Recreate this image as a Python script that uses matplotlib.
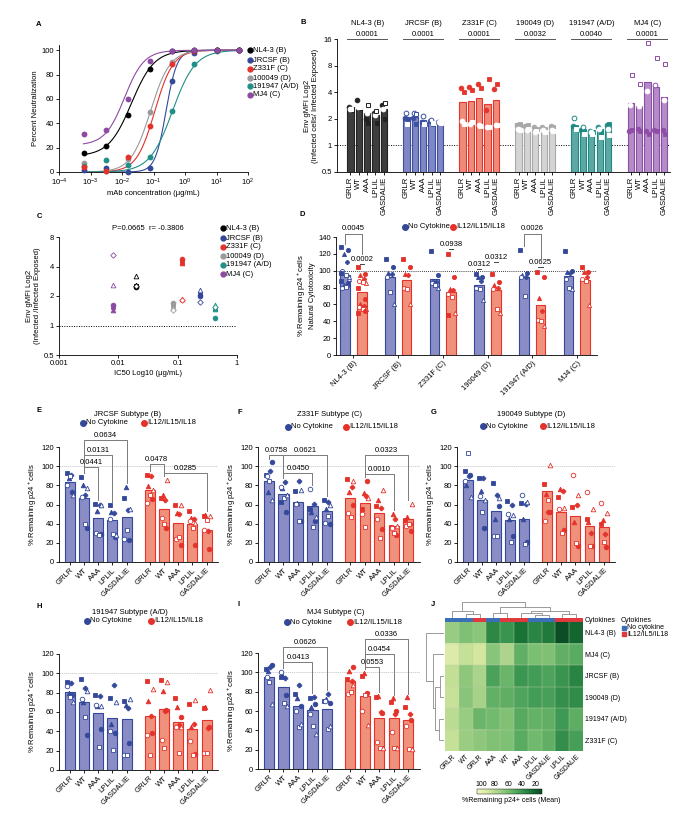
import numpy as np
import matplotlib
matplotlib.use("Agg")
import matplotlib.pyplot as plt
from matplotlib.colors import LinearSegmentedColormap, Normalize
from matplotlib.ticker import NullLocator
from matplotlib import cm

plt.rcParams['font.family'] = ['Liberation Sans', 'DejaVu Sans']
plt.rcParams['font.size'] = 5.5
plt.rcParams['axes.linewidth'] = 0.6
plt.rcParams['xtick.major.width'] = 0.6
plt.rcParams['ytick.major.width'] = 0.6
plt.rcParams['xtick.major.size'] = 2
plt.rcParams['ytick.major.size'] = 2
plt.rcParams['xtick.major.pad'] = 1.5
plt.rcParams['ytick.major.pad'] = 1.5
plt.rcParams['xtick.labelsize'] = 5.5
plt.rcParams['ytick.labelsize'] = 5.5
plt.rcParams['mathtext.default'] = 'regular'

# ---------------- data ----------------
# A: neutralization
a_strains = ["NL4-3 (B)", "JRCSF (B)", "Z331F (C)", "100049 (D)", "191947 (A/D)", "MJ4 (C)"]
mab_conc = [0.00064, 0.0032, 0.016, 0.08, 0.4, 2, 10, 50]
neut_nl43 = [16, 21, 46.5, 84.5, 99.5, 100, 100, 100]
neut_jrcsf = [2, 3.5, 0, 3, 75, 97.5, 100, 100]
neut_z331f = [4.5, 0.5, 12, 38, 89, 99, 100, 100]
neut_100049 = [7, 1, 11, 49, 90, 99, 100, 100]
neut_191947 = [5, 10, 6, 12.5, 50.5, 88.5, 99.5, 100]
neut_mj4 = [31, 34.5, 60, 91, 99.5, 100.5, 100, 100]
# fitted dose-response parameters (bottom plateau, IC50, slope)
fit_bottom = [13, 0, 0, 0, 0, 22]
fit_ic50 = [0.02, 0.25, 0.11, 0.08, 0.4, 0.012]
fit_hill = [1.2, 2.5, 1.5, 1.4, 1.2, 1.4]

# B: Env gMFI
b_strains = ["NL4-3 (B)", "JRCSF (B)", "Z331F (C)", "190049 (D)", "191947 (A/D)", "MJ4 (C)"]
b_pvals = ["0.0001", "0.0001", "0.0001", "0.0032", "0.0040", "0.0001"]
mutants = ["GRLR", "WT", "AAA", "LPLIL", "GASDALIE"]
b_means = [[2.75, 2.7, 2.3, 2.2, 2.6],
           [2.1, 2.1, 1.95, 1.87, 1.83],
           [3.08, 3.19, 3.48, 2.93, 3.28],
           [1.79, 1.64, 1.5, 1.57, 1.64],
           [1.67, 1.5, 1.46, 1.53, 1.6],
           [3.0, 2.76, 5.28, 4.6, 3.57]]
b_rep1 = [[2.75, 3.3, 2.0, 2.3, 2.9], [2.05, 2.05, 1.85, 1.9, 1.85], [4.5, 4.6, 4.9, 2.5, 4.3],
          [1.7, 1.65, 1.6, 1.6, 1.65], [1.65, 1.5, 1.45, 1.6, 1.7], [1.45, 1.55, 1.45, 1.5, 1.5]]
b_rep2 = [[2.5, 2.65, 1.8, 1.8, 2.0], [2.0, 1.75, 1.75, 1.75, 1.8], [4.0, 4.2, 4.5, 5.7, 4.9],
          [1.75, 1.7, 1.55, 1.55, 1.6], [1.6, 1.45, 1.4, 1.4, 1.75], [1.5, 1.45, 1.35, 1.45, 1.35]]
b_rep3 = [[2.55, 2.75, 2.3, 2.2, 2.6], [2.3, 2.35, 2.15, 1.95, 1.85], [1.9, 1.75, 1.7, 1.6, 1.7],
          [1.55, 1.5, 1.4, 1.5, 1.5], [2.05, 1.6, 1.4, 1.55, 1.55], [2.9, 2.8, 4.1, 4.8, 3.3]]
b_rep4 = [[2.6, 2.7, 2.85, 2.45, 3.05], [1.75, 2.25, 1.75, 1.8, 1.8], [1.75, 1.85, 1.65, 1.6, 1.7],
          [1.5, 1.55, 1.45, 1.4, 1.45], [1.55, 1.35, 1.35, 1.25, 1.3], [6.2, 5.0, 14.5, 9.8, 8.4]]

# C: gMFI vs IC50
c_strains = ["NL4-3 (B)", "JRCSF (B)", "Z331F (C)", "100049 (D)", "191947 (A/D)", "MJ4 (C)"]
c_ic50 = [0.02, 0.24, 0.12, 0.085, 0.42, 0.008]
c_gmfi = [[2.55, 2.5, 2.6, 3.2, 2.55],
          [2.05, 2.0, 2.15, 2.3, 1.73],
          [4.4, 4.75, 4.3, 1.87, 1.8],
          [1.6, 1.68, 1.55, 1.5, 1.44],
          [1.5, 1.19, 1.47, 1.6, 1.56],
          [1.55, 1.62, 1.45, 2.6, 5.25]]

# D: natural cytotoxicity
d_strains = ["NL4-3 (B)", "JRCSF (B)", "Z331F (C)", "190049 (D)", "191947 (A/D)", "MJ4 (C)"]
d_nc_mean = [95.5, 92, 90, 83, 93, 94]
d_cyt_mean = [75, 89, 75, 77, 59, 89]
d_nc_pts = [[128, 125, 120, 110, 100, 95, 90, 88, 85, 83, 82, 80, 81, 92, 97],
            [114, 104, 97, 96, 93, 75, 61],
            [123, 95, 88, 87, 85, 83, 80],
            [96, 93, 92, 88, 80, 78, 65],
            [125, 97, 95, 93, 92, 70],
            [123, 100, 99, 97, 90, 80, 78]]
d_cyt_pts = [[104, 96, 95, 90, 88, 87, 85, 80, 67, 60, 58, 57, 55, 54, 50, 52],
             [114, 105, 96, 95, 80, 78, 61],
             [120, 93, 78, 77, 72, 69, 50, 47],
             [96, 87, 83, 80, 78, 55, 50],
             [99, 93, 68, 52, 42, 40, 35],
             [105, 99, 98, 93, 90, 88, 59]]
d_pair_p = [(0, 144, "0.0045"), (4, 144, "0.0026")]
d_bar_p = [(0, "cyt", 108, "0.0002"), (2, "cyt", 126, "0.0938"), (3, "nc", 102, "0.0312"),
           (3, "cyt", 110, "0.0312"), (4, "cyt", 104, "0.0625")]

# E-I: mutant panels, 7 donors per bar
jrcsf_nc_mean = [84, 67, 46, 43.5, 47]
jrcsf_cyt_mean = [75.5, 55.6, 41, 40, 33]
jrcsf_nc_pts = [[93, 73, 88, 91, 80, 90, 70], [89, 36, 80, 70, 68, 40, 77], [61, 29, 53, 60, 30, 28, 59],
                [59, 26, 52, 51, 45, 29, 28], [67, 23, 78, 54, 24, 33, 55]]
jrcsf_cyt_pts = [[91, 66, 79, 90, 62, 70, 75], [67, 36, 70, 65, 46, 40, 86], [60, 18, 51, 50, 24, 26, 59],
                 [53, 18, 46, 45, 43, 35, 41], [48, 14, 49, 32, 33, 44, 48]]
jrcsf_p = [("nc", 1, 2, 99, "0.0441"), ("nc", 1, 3, 112, "0.0131"), ("nc", 1, 4, 127, "0.0634"),
           ("cyt", 0, 1, 102, "0.0478"), ("cyt", 1, 4, 93, "0.0285")]

z331f_nc_mean = [85, 70.6, 63, 58, 53]
z331f_cyt_mean = [67, 62, 51, 37.5, 44.5]
z331f_nc_pts = [[91, 104, 73, 95, 90, 85, 65], [63, 52, 77, 84, 78, 67, 70], [74, 43, 62, 85, 61, 43, 75],
                [55, 43, 52, 61, 76, 37, 47], [65, 40, 55, 63, 41, 48, 60]]
z331f_cyt_pts = [[87, 60, 73, 78, 51, 47, 85], [55, 85, 72, 69, 50, 37, 67], [58, 34, 65, 56, 45, 25, 75],
                 [37, 28, 50, 45, 35, 30, 38], [44, 32, 47, 40, 38, 40, 61]]
z331f_p = [("nc", 0, 1, 112, "0.0758"), ("nc", 1, 4, 112, "0.0621"), ("nc", 1, 3, 93, "0.0450"),
           ("cyt", 1, 4, 112, "0.0323"), ("cyt", 1, 3, 92, "0.0010")]

s190049_nc_mean = [86, 65, 53.5, 44, 45]
s190049_cyt_mean = [74, 52.5, 47.6, 38, 36.5]
s190049_nc_pts = [[95, 91, 80, 90, 85, 114, 68], [88, 35, 74, 88, 69, 52, 65], [82, 58, 45, 70, 27, 27, 67],
                  [64, 27, 45, 59, 50, 21, 49], [62, 21, 45, 61, 70, 19, 63]]
s190049_cyt_pts = [[81, 52, 71, 52, 43, 65, 101], [68, 33, 76, 74, 55, 30, 56], [57, 17, 42, 60, 91, 20, 70],
                   [45, 17, 42, 30, 73, 17, 55], [40, 16, 44, 29, 62, 21, 51]]

s191947_nc_mean = [81, 70, 58.6, 54, 53]
s191947_cyt_mean = [56, 63, 50, 42, 52]
s191947_nc_pts = [[91, 78, 80, 90, 87, 76, 70], [94, 36, 70, 85, 73, 55, 82], [78, 42, 66, 77, 67, 24, 66],
                  [74, 38, 48, 88, 40, 21, 70], [71, 28, 67, 64, 16, 16, 73]]
s191947_cyt_pts = [[92, 38, 71, 56, 36, 16, 84], [93, 62, 82, 61, 31, 23, 91], [74, 55, 65, 47, 45, 18, 45],
                   [68, 17, 45, 48, 30, 16, 72], [64, 44, 65, 43, 18, 18, 83]]

mj4_nc_mean = [95, 85, 65, 61.4, 62]
mj4_cyt_mean = [90.7, 76, 53, 53, 51]
mj4_nc_pts = [[103, 108, 101, 106, 95, 90, 67], [95, 77, 97, 94, 100, 68, 65], [78, 65, 73, 87, 60, 43, 47],
              [73, 67, 64, 75, 57, 44, 36], [70, 68, 72, 78, 70, 41, 44]]
mj4_cyt_pts = [[93, 106, 101, 91, 78, 80, 87], [96, 79, 99, 78, 60, 77, 46], [74, 58, 76, 59, 28, 22, 22],
               [69, 60, 73, 57, 38, 22, 22], [64, 51, 74, 57, 44, 21, 21]]
mj4_p = [("nc", 1, 3, 110.7, "0.0413"), ("nc", 1, 4, 126, "0.0626"), ("cyt", 1, 2, 105.5, "0.0553"),
         ("cyt", 1, 3, 119, "0.0454"), ("cyt", 1, 4, 134, "0.0336")]

# J: heatmap of means
heat_rows = ["NL4-3 (B)", "MJ4 (C)", "JRCSF (B)", "190049 (D)", "191947 (A/D)", "Z331F (C)"]
heat_cols = [(0, "nc"), (1, "nc"), (0, "cyt"), (2, "nc"), (1, "cyt"), (2, "cyt"),
             (3, "nc"), (4, "nc"), (3, "cyt"), (4, "cyt")]
heat_nl43 = [70, 62, 66, 35, 40, 26, 34, 29, 12, 21]
row_merges = [(2, 3, 0.2), (4, 5, 0.3), (6, 7, 0.52), (1, 8, 0.63), (0, 9, 1.0)]
col_merges = [(1, 2, 0.25), (0, 10, 0.45), (3, 4, 0.35), (6, 7, 0.2), (5, 13, 0.3),
              (8, 9, 0.25), (14, 15, 0.45), (12, 16, 0.7), (11, 17, 1.0)]

# ---------------- style ----------------
W, H = 694, 818
BLUE, BLUE_FILL = "#34489a", "#8a8cc6"
RED, RED_FILL = "#e4322b", "#f0917b"
A_COLORS = ["#000000", "#34489a", "#e4322b", "#9a9a9a", "#1f8f88", "#8e4aa3"]
B_EDGE = ["#222222", "#3b50a0", "#e3352b", "#a8a8a8", "#1e8a84", "#8e4da6"]
B_FILL = ["#3d3d3d", "#7f86c4", "#ef8a7a", "#d4d4d4", "#5ea8a4", "#b48cc8"]
DONOR_MK = [("s", True), ("o", True), ("^", True), ("P", True), ("o", False), ("s", False), ("^", False)]
JIT = [-0.2, 0.18, -0.08, 0.1, -0.16, 0.04, 0.22]
JFS = 5

fig = plt.figure(figsize=(W / 100, H / 100), dpi=100)


def add_ax(l, t, r, b):
    return fig.add_axes([l / W, 1 - b / H, (r - l) / W, (b - t) / H])


def tidy(ax):
    ax.spines['top'].set_visible(False)
    ax.spines['right'].set_visible(False)


def dot(ax, x, y, color, mk="o", filled=True, ms=3.2):
    ax.plot(x, y, marker=mk, ls="none", ms=ms, mfc=color if filled else "white",
            mec=color, mew=0.6, clip_on=False, zorder=3)


# ---- A
axA = add_ax(59, 45, 248, 172)
tidy(axA)
xs = np.logspace(np.log10(0.0006), np.log10(50), 300)
neut = [neut_nl43, neut_jrcsf, neut_z331f, neut_100049, neut_191947, neut_mj4]
for k in range(6):
    curve = fit_bottom[k] + (100 - fit_bottom[k]) / (1 + (fit_ic50[k] / xs) ** fit_hill[k])
    axA.plot(xs, curve, color=A_COLORS[k], lw=0.8)
for k in [3, 1, 4, 2, 0, 5]:
    axA.plot(mab_conc, neut[k], "o", ms=4.2, color=A_COLORS[k], mec="none", clip_on=False, zorder=3)
axA.set_xscale("log")
axA.set_xlim(1e-4, 1e2)
axA.set_ylim(0, 104.3)
axA.set_yticks(range(0, 101, 20))
axA.set_xticks([1e-4, 1e-3, 1e-2, 1e-1, 1, 10, 100])
axA.xaxis.set_minor_locator(NullLocator())
axA.set_xlabel("mAb concentration (\u03bcg/mL)", labelpad=1)
axA.set_ylabel("Percent Neutralization", labelpad=2)

# ---- B
axB = add_ax(337, 39, 670, 172)
tidy(axB)
axB.set_yscale("log", base=2)
gstep = 6.7
ticks_b, labels_b = [], []
b_styles = [("o", True), ("s", True), ("o", False), ("s", False)]
b_offs = [-0.18, 0.16, -0.05, 0.12]
for g in range(6):
    x = g * gstep + np.arange(5)
    axB.bar(x, np.array(b_means[g]) - 0.5, 0.75, bottom=0.5, color=B_FILL[g],
            edgecolor=B_EDGE[g], lw=0.8, zorder=1)
    reps = [b_rep1[g], b_rep2[g], b_rep3[g], b_rep4[g]]
    for r, (mk, filled), off in zip(reps, b_styles, b_offs):
        for i, v in enumerate(r):
            if filled:
                dot(axB, x[i] + off, v, B_EDGE[g], mk, True, ms=3.4)
            else:
                inside = v <= b_means[g][i] * 1.02
                ec = "white" if inside else B_EDGE[g]
                axB.plot(x[i] + off, v, marker=mk, ls="none", ms=3.4, mfc="white",
                         mec=ec, mew=0.7, zorder=3, clip_on=False)
    ticks_b += list(x)
    labels_b += mutants
    trans = axB.get_xaxis_transform()
    axB.plot([x[0] - 0.4, x[-1] + 0.4], [1.0, 1.0], transform=trans, color="#555555", lw=0.7, clip_on=False)
    axB.text(x.mean(), 1.035, b_pvals[g], transform=trans, ha="center", va="center")
    axB.text(x.mean(), 1.12, b_strains[g], transform=trans, ha="center", va="center")
axB.axhline(1, color="black", ls=(0, (1, 1.5)), lw=0.7, zorder=0)
axB.set_ylim(0.5, 16)
axB.set_yticks([0.5, 1, 2, 4, 8, 16])
axB.set_yticklabels(["0.5", "1", "2", "4", "8", "16"])
axB.yaxis.set_minor_locator(NullLocator())
axB.set_xlim(-1.6, 5 * gstep + 4.7)
axB.set_xticks(ticks_b)
axB.set_xticklabels(labels_b, rotation=90)
axB.set_ylabel("Env gMFI Log2\n(Infected cells/ Infected Exposed)", labelpad=2)

# ---- C
axC = add_ax(59, 237, 237, 355)
tidy(axC)
c_styles = [("s", True), ("o", True), ("^", True), ("^", False), ("D", False)]
for k in range(6):
    for v, (mk, filled) in zip(c_gmfi[k], c_styles):
        dot(axC, c_ic50[k], v, A_COLORS[k], mk, filled, ms=3.4 if mk != "D" else 2.8)
axC.axhline(1, color="black", ls=(0, (1, 1.5)), lw=0.7, zorder=0)
axC.set_xscale("log")
axC.set_yscale("log", base=2)
axC.set_xlim(0.001, 1)
axC.set_ylim(0.5, 8)
axC.set_xticks([0.001, 0.01, 0.1, 1])
axC.set_xticklabels(["0.001", "0.01", "0.1", "1"])
axC.set_yticks([0.5, 1, 2, 4, 8])
axC.set_yticklabels(["0.5", "1", "2", "4", "8"])
axC.xaxis.set_minor_locator(NullLocator())
axC.yaxis.set_minor_locator(NullLocator())
axC.set_xlabel("IC50 Log10 (\u03bcg/mL)", labelpad=2)
axC.set_ylabel("Env gMFI Log2\n(Infected /Infected Exposed)", labelpad=2)
axC.text(0.5, 1.07, "P=0.0665  r= -0.3806", transform=axC.transAxes, ha="center", va="center")

# ---- D
axD = add_ax(336, 237, 597, 355)
tidy(axD)
gx = np.arange(6)
xb_d, xr_d = gx - 0.187, gx + 0.187
axD.bar(xb_d, d_nc_mean, 0.22, color=BLUE_FILL, edgecolor=BLUE, lw=0.8)
axD.bar(xr_d, d_cyt_mean, 0.22, color=RED_FILL, edgecolor=RED, lw=0.8)
for xs_, pts, col in ((xb_d, d_nc_pts, BLUE), (xr_d, d_cyt_pts, RED)):
    for xi, vals in zip(xs_, pts):
        for k, v in enumerate(vals):
            mk, filled = DONOR_MK[k % 7]
            dot(axD, xi + JIT[k % 7] * 0.4, v, col, mk, filled, ms=3.0)
for g, yl, lab in d_pair_p:
    lb = max(d_nc_pts[g]) + 4
    rb = max(d_cyt_pts[g]) + 16
    axD.plot([xb_d[g], xb_d[g], xr_d[g], xr_d[g]], [lb, yl, yl, rb], color="#777777", lw=0.7, clip_on=False)
    axD.text(gx[g], yl + 2, lab, ha="center", va="bottom", clip_on=False)
for g, cond, yl, lab in d_bar_p:
    xi = xb_d[g] if cond == "nc" else xr_d[g]
    axD.plot([xi - 0.05, xi + 0.05], [yl, yl], color="#444444", lw=0.7, clip_on=False)
    axD.text(xi, yl + 1.5, lab, ha="center", va="bottom", clip_on=False)
axD.axhline(100, color="black", ls=(0, (1, 1.5)), lw=0.6, zorder=0)
axD.set_ylim(0, 140)
axD.set_yticks(range(0, 141, 20))
axD.set_xlim(-0.39, 5.45)
axD.set_xticks(gx)
axD.set_xticklabels(d_strains, rotation=45, ha="right", rotation_mode="anchor")
axD.set_ylabel("% Remaining p24$^+$cells\nNatural Cytotoxicity", labelpad=2)


# ---- E-I
def subtype_panel(ax, nc_mean, cyt_mean, nc_pts, cyt_pts, brackets):
    tidy(ax)
    xb = np.arange(5)
    xr = np.arange(5) + 5.6
    ax.bar(xb, nc_mean, 0.7, color=BLUE_FILL, edgecolor=BLUE, lw=0.8)
    ax.bar(xr, cyt_mean, 0.7, color=RED_FILL, edgecolor=RED, lw=0.8)
    for xs_, pts, col in ((xb, nc_pts, BLUE), (xr, cyt_pts, RED)):
        for xi, vals in zip(xs_, pts):
            for k, v in enumerate(vals):
                mk, filled = DONOR_MK[k % 7]
                dot(ax, xi + JIT[k % 7], v, col, mk, filled, ms=3.3)
    for cond, i, j, yl, lab in brackets:
        xs_ = xb if cond == "nc" else xr
        pts = nc_pts if cond == "nc" else cyt_pts
        lb = min(max(pts[i]) + 4, yl - 2)
        rb = min(max(pts[j]) + 4, yl - 2)
        ax.plot([xs_[i], xs_[i], xs_[j], xs_[j]], [lb, yl, yl, rb], color="#7a7a7a", lw=0.7, clip_on=False)
        ax.text((xs_[i] + xs_[j]) / 2, yl + 1.2, lab, ha="center", va="bottom", clip_on=False)
    ax.axhline(100, color="#c0c0c0", ls=(0, (2, 1)), lw=0.5, zorder=0)
    ax.set_ylim(0, 120)
    ax.set_yticks(range(0, 121, 20))
    ax.set_xlim(-0.75, 10.4)
    ax.set_xticks(list(xb) + list(xr))
    ax.set_xticklabels(mutants * 2, rotation=45, ha="right", rotation_mode="anchor")
    ax.set_ylabel("% Remaining p24$^+$cells", labelpad=2)


axE = add_ax(59, 447, 218, 562)
subtype_panel(axE, jrcsf_nc_mean, jrcsf_cyt_mean, jrcsf_nc_pts, jrcsf_cyt_pts, jrcsf_p)
axF = add_ax(258, 447, 420, 562)
subtype_panel(axF, z331f_nc_mean, z331f_cyt_mean, z331f_nc_pts, z331f_cyt_pts, z331f_p)
axG = add_ax(457, 447, 615, 562)
subtype_panel(axG, s190049_nc_mean, s190049_cyt_mean, s190049_nc_pts, s190049_cyt_pts, [])
axH = add_ax(59, 654, 218, 770)
subtype_panel(axH, s191947_nc_mean, s191947_cyt_mean, s191947_nc_pts, s191947_cyt_pts, [])
axI = add_ax(258, 653, 420, 769)
subtype_panel(axI, mj4_nc_mean, mj4_cyt_mean, mj4_nc_pts, mj4_cyt_pts, mj4_p)

# ---- J heatmap
panel_means = {"MJ4 (C)": (mj4_nc_mean, mj4_cyt_mean),
               "JRCSF (B)": (jrcsf_nc_mean, jrcsf_cyt_mean),
               "190049 (D)": (s190049_nc_mean, s190049_cyt_mean),
               "191947 (A/D)": (s191947_nc_mean, s191947_cyt_mean),
               "Z331F (C)": (z331f_nc_mean, z331f_cyt_mean)}
heat = [heat_nl43]
for name in heat_rows[1:]:
    nc, cy = panel_means[name]
    heat.append([nc[m] if c == "nc" else cy[m] for m, c in heat_cols])
heat = np.array(heat, dtype=float)

greens = LinearSegmentedColormap.from_list(
    "greens", ["#0a4a24", "#1a7437", "#3f9a55", "#72bb6e", "#a8d38a", "#d6e8a0", "#f2f4c6"])
hnorm = Normalize(vmin=10, vmax=107)

axJ = add_ax(445, 622, 583, 751)
axJ.imshow(heat, cmap=greens, norm=hnorm, aspect="auto")
for k in range(1, 10):
    axJ.axvline(k - 0.5, color="#bfcfa8", lw=0.3)
for k in range(1, 6):
    axJ.axhline(k - 0.5, color="#bfcfa8", lw=0.3)
axJ.set_xticks(range(10))
axJ.set_xticklabels([mutants[m] for m, c in heat_cols], rotation=45, ha="right",
                    rotation_mode="anchor", fontsize=4.8)
axJ.yaxis.tick_right()
axJ.set_yticks(range(6))
axJ.set_yticklabels(heat_rows, fontsize=JFS)
axJ.tick_params(length=0, pad=1.5)
for s in axJ.spines.values():
    s.set_visible(False)

STRIP = {"nc": "#3b6fb6", "cyt": "#e0393e"}
axS = add_ax(445, 618, 583, 622)
for k, (m, c) in enumerate(heat_cols):
    axS.axvspan(k - 0.5, k + 0.5, color=STRIP[c], lw=0)
axS.set_xlim(-0.5, 9.5)
axS.axis("off")


def draw_dendro(ax, merges, n, vertical):
    pos = {i: float(i) for i in range(n)}
    hgt = {i: 0.0 for i in range(n)}
    for k, (a, b, h) in enumerate(merges):
        pa, pb, ha, hb = pos[a], pos[b], hgt[a], hgt[b]
        if vertical:
            ax.plot([pa, pa, pb, pb], [ha, h, h, hb], color="#8a8a8a", lw=0.6)
        else:
            ax.plot([ha, h, h, hb], [pa, pa, pb, pb], color="#8a8a8a", lw=0.6)
        pos[n + k] = (pa + pb) / 2
        hgt[n + k] = h
    ax.axis("off")


axCD = add_ax(445, 602, 583, 618)
draw_dendro(axCD, col_merges, 10, True)
axCD.set_xlim(-0.5, 9.5)
axCD.set_ylim(0, 1.02)
axRD = add_ax(426, 622, 444, 751)
draw_dendro(axRD, row_merges, 6, False)
axRD.set_ylim(5.5, -0.5)
axRD.set_xlim(1.02, 0)

cax = add_ax(477, 789, 542, 794)
cb = fig.colorbar(cm.ScalarMappable(norm=hnorm, cmap=greens), cax=cax, orientation="horizontal")
cb.set_ticks([100, 80, 60, 40, 20])
cb.outline.set_linewidth(0.3)
cax.xaxis.set_ticks_position("top")
cax.tick_params(length=0, pad=1, labelsize=JFS)
cax.invert_xaxis()

# ---- overlay: panel letters, titles, legends
ov = fig.add_axes([0, 0, 1, 1])
ov.set_xlim(0, W)
ov.set_ylim(H, 0)
ov.axis("off")
for lab, x, y in [("A", 39, 24), ("B", 303, 23), ("C", 39, 217), ("D", 302, 215), ("E", 39, 411),
                  ("F", 240, 412), ("G", 434, 412), ("H", 39, 606), ("I", 239, 605), ("J", 433, 605)]:
    ov.text(x, y, lab, fontsize=5.5, fontweight="bold", ha="center", va="center")


def leg_item(x, y, color, text, mk="o", ms=3.5, fs=5.5):
    ov.plot([x], [y], marker=mk, color=color, ms=ms, ls="none")
    ov.text(x + 3.5, y, text, va="center", ha="left", fontsize=fs)


for k, y in enumerate([50, 60, 69, 78, 86, 95]):
    leg_item(250, y, A_COLORS[k], a_strains[k])
for k, y in enumerate([228, 238, 247, 256, 265, 274]):
    leg_item(223, y, A_COLORS[k], c_strains[k])

for (bx, rx, y) in [(405, 453, 227), (83, 144, 423), (288, 346, 427), (483, 543, 426),
                    (87, 151, 621), (287, 350, 622)]:
    leg_item(bx, y, BLUE, "No Cytokine", ms=4)
    leg_item(rx, y, RED, "IL12/IL15/IL18", ms=4)

for t, x, y in [("JRCSF Subtype (B)", 128, 414), ("Z331F Subtype (C)", 330, 414),
                ("190049 Subtype (D)", 531, 414), ("191947 Subtype (A/D)", 130, 613),
                ("MJ4 Subtype (C)", 336, 612)]:
    ov.text(x, y, t, ha="center", va="center")

ov.text(585, 621, "Cytokines", ha="left", va="center", fontsize=JFS)
ov.text(621, 620, "Cytokines", ha="left", va="center", fontsize=JFS)
ov.plot([624], [627.5], marker="s", color=STRIP["nc"], ms=3.4, ls="none")
ov.text(627, 627.5, "No cytokine", ha="left", va="center", fontsize=JFS)
ov.plot([624], [634], marker="s", color=STRIP["cyt"], ms=3.4, ls="none")
ov.text(627, 634, "IL12/IL5/IL18", ha="left", va="center", fontsize=JFS)
ov.text(511, 800, "%Remaining p24+ cells (Mean)", ha="center", va="center", fontsize=JFS)

fig.savefig("out.png", dpi=100)
